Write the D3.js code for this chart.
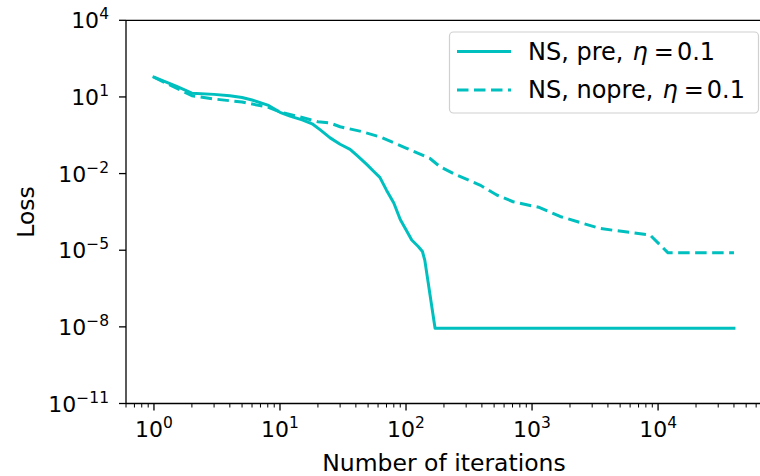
<!DOCTYPE html>
<html><head><meta charset="utf-8">
<script src="https://cdn.jsdelivr.net/npm/d3@7"></script>
<style>body{margin:0;background:#fff}svg{display:block}text{font-family:"DejaVu Sans",sans-serif;fill:#000}</style>
</head><body>
<svg id="c" width="760" height="476"></svg>
<script>
// ---- data ----
const preIter = [1, 1.5, 2, 3, 4, 5, 6, 8, 10, 12, 15, 18, 21, 25, 30, 36, 41, 49, 55, 62, 70, 80, 90, 100, 111, 125, 135, 141, 170, 40000];
const preLoss = [58.9, 26.3, 14.1, 12.6, 11.2, 9.5, 7.6, 4.8, 2.5, 1.78, 1.26, 0.89, 0.5, 0.25, 0.141, 0.089, 0.05, 0.0224, 0.0126, 0.0071, 0.00224, 7.1e-4, 1.6e-4, 6.3e-5, 2.5e-5, 1.4e-5, 8.9e-6, 4.0e-6, 8.9e-9, 8.9e-9];
const nopreIter = [1, 2, 3, 5, 8, 10, 15, 20, 25, 30, 43, 62, 100, 155, 186, 250, 386, 525, 708, 1150, 1670, 3450, 8650, 12000, 40000];
const nopreLoss = [58.9, 11.2, 8.3, 6.3, 4.0, 2.6, 1.58, 1.07, 0.95, 0.68, 0.46, 0.275, 0.1, 0.039, 0.0186, 0.0089, 0.00355, 0.00145, 7.9e-4, 4.7e-4, 2.1e-4, 7.1e-5, 3.9e-5, 7.9e-6, 7.9e-6];
const xTickExps = [0, 1, 2, 3, 4];
const yTickExps = [4, 1, -2, -5, -8, -11];
const seriesNames = ["NS, pre, ", "NS, nopre, "];
const xLabel = "Number of iterations";
const yLabel = "Loss";

const color = "#00bfbf";
const svg = d3.select("#c");
const L = 126, R = 763, T = 20.3, B = 403.5;
const x = d3.scaleLog().domain([0.6, 68000]).range([L, R]);
const y = d3.scaleLog().domain([1e-11, 1e4]).range([B, T]);

const fmtExp = e => (e < 0 ? "\u2212" + (-e) : "" + e);

// lines
const line = d3.line().x(d => x(d[0])).y(d => y(d[1]));
const preData = preIter.map((v, i) => [v, preLoss[i]]);
const nopreData = nopreIter.map((v, i) => [v, nopreLoss[i]]);
svg.append("path").datum(preData).attr("d", line).attr("fill", "none")
  .attr("stroke", color).attr("stroke-width", 3).attr("stroke-linejoin", "round").attr("stroke-linecap", "square");
svg.append("path").datum(nopreData).attr("d", line).attr("fill", "none")
  .attr("stroke", color).attr("stroke-width", 3).attr("stroke-dasharray", "11.5,5.5").attr("stroke-linejoin", "round");

// spines
const g = svg.append("g").attr("stroke", "#000").attr("stroke-width", 1.3).attr("fill", "none");
g.append("line").attr("x1", L).attr("x2", L).attr("y1", T).attr("y2", B);
g.append("line").attr("x1", L).attr("x2", 770).attr("y1", T).attr("y2", T);
g.append("line").attr("x1", L).attr("x2", 770).attr("y1", B).attr("y2", B);

// x ticks
const minor = [];
for (let e = -1; e <= 4; e++) for (let m = 2; m <= 9; m++) { const v = m * Math.pow(10, e); if (v >= 0.6 && v <= 68000) minor.push(v); }
svg.append("g").selectAll("line").data(minor).join("line")
  .attr("x1", d => x(d)).attr("x2", d => x(d)).attr("y1", B).attr("y2", B + 4)
  .attr("stroke", "#000").attr("stroke-width", 1);
svg.append("g").selectAll("line").data(xTickExps).join("line")
  .attr("x1", d => x(Math.pow(10, d))).attr("x2", d => x(Math.pow(10, d))).attr("y1", B).attr("y2", B + 7)
  .attr("stroke", "#000").attr("stroke-width", 1.3);
const xt = svg.append("g").selectAll("text").data(xTickExps).join("text")
  .attr("x", d => x(Math.pow(10, d))).attr("y", 437).attr("text-anchor", "middle").style("font-size", "22px");
xt.append("tspan").text("10");
xt.append("tspan").attr("dy", -9).style("font-size", "15.5px").text(d => fmtExp(d));

// y ticks
svg.append("g").selectAll("line").data(yTickExps).join("line")
  .attr("x1", L - 7).attr("x2", L).attr("y1", d => y(Math.pow(10, d))).attr("y2", d => y(Math.pow(10, d)))
  .attr("stroke", "#000").attr("stroke-width", 1.3);
const yt = svg.append("g").selectAll("text").data(yTickExps).join("text")
  .attr("x", 109).attr("y", d => y(Math.pow(10, d)) + 8).attr("text-anchor", "end").style("font-size", "22px");
yt.append("tspan").text("10");
yt.append("tspan").attr("dy", -9).style("font-size", "15.5px").text(d => fmtExp(d));

// axis labels
svg.append("text").attr("x", 444).attr("y", 471).attr("text-anchor", "middle").style("font-size", "23.5px").text(xLabel);
svg.append("text").attr("transform", "translate(34,212) rotate(-90)").attr("text-anchor", "middle").style("font-size", "23.5px").text(yLabel);

// legend
const lg = svg.append("g");
lg.append("rect").attr("x", 449.5).attr("y", 32).attr("width", 309).attr("height", 81).attr("rx", 4)
  .attr("fill", "#fff").attr("fill-opacity", 0.8).attr("stroke", "#d0d0d0").attr("stroke-width", 1.2);
const rows = [{ n: seriesNames[0], y: 51.5, dash: null }, { n: seriesNames[1], y: 90, dash: "11.5,5.5" }];
rows.forEach(r => {
  const ln = lg.append("line").attr("x1", 457).attr("x2", 511).attr("y1", r.y).attr("y2", r.y)
    .attr("stroke", color).attr("stroke-width", 3);
  if (r.dash) ln.attr("stroke-dasharray", r.dash);
  const t = lg.append("text").attr("x", 528).attr("y", r.y + 8).style("font-size", "24px");
  t.append("tspan").text(r.n);
  t.append("tspan").attr("dx", 1.5).style("font-style", "italic").text("\u03b7");
  t.append("tspan").attr("dx", 6).text("=");
  t.append("tspan").attr("dx", 3).text("0.1");
});
</script>
</body></html>
